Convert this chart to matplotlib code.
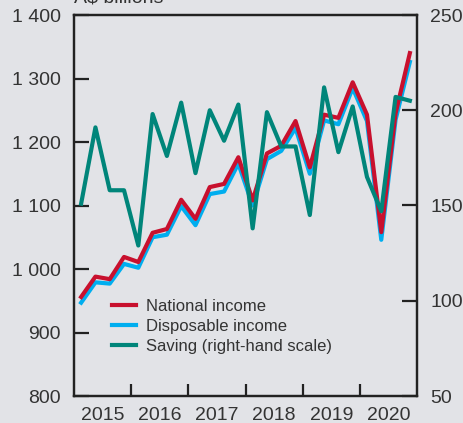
import numpy as np
from matplotlib import pyplot as plt

# DATOS (trimestrales, 2015 T1 - 2020 T4)
years = ['2015', '2016', '2017', '2018', '2019', '2020']
national_income = [956, 988, 984, 1019,
                   1011, 1057, 1063, 1109,
                   1079, 1129, 1134, 1176,
                   1108, 1182, 1194, 1233,
                   1160, 1243, 1238, 1294,
                   1243, 1058, 1245, 1340]
disposable_income = [947, 979, 977, 1008,
                     1002, 1050, 1054, 1099,
                     1069, 1118, 1122, 1166,
                     1100, 1173, 1186, 1222,
                     1150, 1234, 1228, 1285,
                     1233, 1046, 1235, 1326]
saving = [151, 191, 158, 158,
          129, 198, 176, 204,
          167, 200, 184, 203,
          138, 199, 181, 181,
          145, 212, 178, 202,
          165, 147, 207, 205]
left_ticks = [800, 900, 1000, 1100, 1200, 1300, 1400]
right_ticks = [50, 100, 150, 200, 250]

bg = '#e2e3e7'
red = '#c8102e'
blue = '#00aeef'
teal = '#00857a'
dark = '#222222'
txt = '#333333'

plt.rcParams['font.family'] = ['Liberation Sans', 'DejaVu Sans']

fig = plt.figure(figsize=(4.64, 4.23), dpi=100, facecolor=bg)
ax = fig.add_axes([74 / 464, 1 - 396 / 423, (417 - 74) / 464, (396 - 15) / 423])
ax.set_facecolor(bg)

x = np.arange(len(national_income)) + 0.5
ax.plot(x, disposable_income, color=blue, lw=3, label='Disposable income', zorder=2)
ax.plot(x, national_income, color=red, lw=3, label='National income', zorder=3)

ax.set_xlim(0, len(national_income))
ax.set_ylim(800, 1400)
ax.set_yticks(left_ticks)
ax.set_yticklabels(['{:,}'.format(v).replace(',', ' ') for v in left_ticks])

# Ticks de años: marcas en los límites, etiquetas en el centro
ax.set_xticks([4 * i for i in range(1, len(years))])
ax.set_xticklabels([])
ax.set_xticks([4 * i + 2 for i in range(len(years))], minor=True)
ax.set_xticklabels(years, minor=True)
ax.tick_params(axis='x', which='major', direction='in', length=9, width=1.6, color=dark)
ax.tick_params(axis='x', which='minor', length=0, pad=8, labelsize=14, labelcolor=txt)
ax.tick_params(axis='y', direction='in', length=11, width=1.6, color=dark,
               pad=9.5, labelsize=14, labelcolor=txt)

ax2 = ax.twinx()
ax2.patch.set_visible(False)
ax2.plot(x, saving, color=teal, lw=3, label='Saving (right-hand scale)')
ax2.set_ylim(50, 250)
ax2.set_yticks(right_ticks)
ax2.tick_params(axis='y', direction='in', length=11, width=1.6, color=dark,
                pad=9.5, labelsize=14, labelcolor=txt)

for a in (ax, ax2):
    for s in a.spines.values():
        s.set_color(dark)
        s.set_linewidth(1.6)

# Leyenda
handles = [ax.lines[1], ax.lines[0], ax2.lines[0]]
ax.legend(handles, [h.get_label() for h in handles], loc='upper left',
          bbox_to_anchor=(0.067, 0.295), frameon=False, fontsize=12,
          handlelength=1.45, handletextpad=0.6, labelspacing=0.3,
          labelcolor=txt)

fig.text(74 / 464, 1 - 3 / 423, 'A$ billions', fontsize=14, color=txt,
         ha='left', va='baseline')

plt.savefig('out.png', dpi=100, facecolor=bg)
